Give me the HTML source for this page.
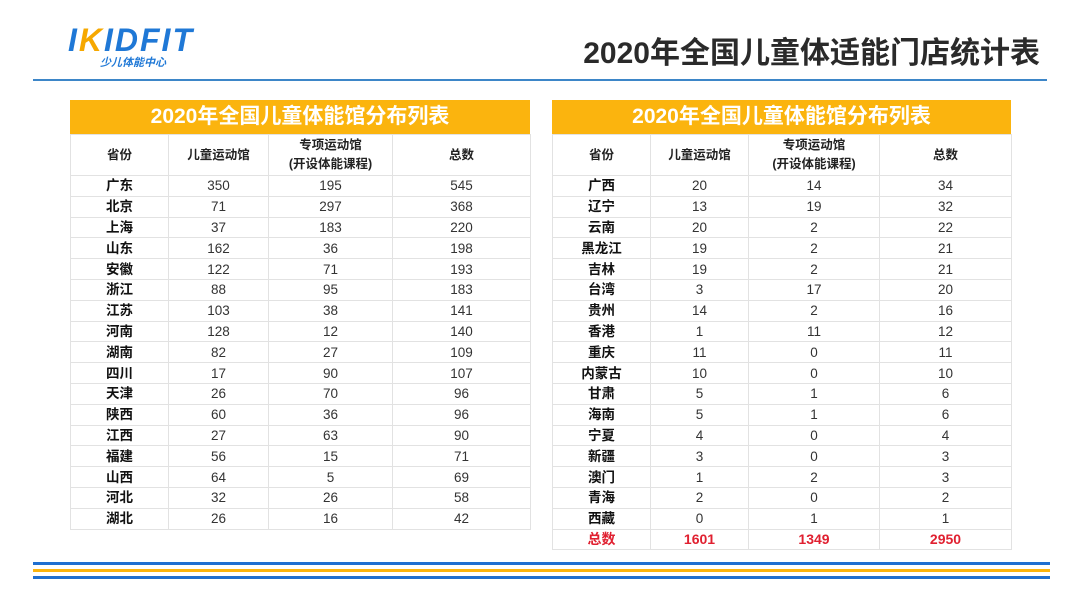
<!DOCTYPE html><html><head><meta charset="utf-8"><style>
body{margin:0;width:1080px;height:607px;background:#fff;position:relative;overflow:hidden;font-family:"Liberation Sans","Noto Sans CJK SC",sans-serif;}
.abs{position:absolute}
table{position:absolute;border-collapse:collapse;table-layout:fixed;font-size:13.5px;color:#333}
td{border:1px solid #e2e2e2;text-align:center;padding:0;height:19.8px;line-height:19px}
td:first-child{font-weight:bold;color:#111}
tr.h td{height:40px;line-height:19px;font-weight:bold;color:#222;font-size:12.5px}
tr.t td{color:#e02030;font-weight:bold;font-size:14px}
.bar{position:absolute;background:#fbb40e;color:#fff;font-weight:bold;font-size:21px;text-align:center;height:34px;line-height:34px}
</style></head><body>
<div class="abs" style="left:68px;top:22px;font:italic 900 32px 'Liberation Sans',sans-serif;color:#1f78d6;letter-spacing:2px">I<span style="color:#f6a800">K</span>IDFIT</div>
<div class="abs" style="left:100px;top:54px;font-size:11px;color:#1f78d6;font-style:italic;font-weight:bold">少儿体能中心</div>
<div class="abs" style="right:40px;top:28px;font-size:30px;font-weight:bold;color:#2a2a2a">2020年全国儿童体适能门店统计表</div>
<div class="abs" style="left:33px;top:79px;width:1014px;height:2px;background:#3d86c8"></div>
<div class="bar" style="left:70px;top:100px;width:460px">2020年全国儿童体能馆分布列表</div>
<div class="bar" style="left:552px;top:100px;width:459px">2020年全国儿童体能馆分布列表</div>
<table style="left:70px;top:134px;width:460px"><colgroup><col style="width:98px"><col style="width:100px"><col style="width:124px"><col style="width:138px"></colgroup>
<tr class="h"><td>省份</td><td>儿童运动馆</td><td>专项运动馆<br>(开设体能课程)</td><td>总数</td></tr>
<tr><td>广东</td><td>350</td><td>195</td><td>545</td></tr>
<tr><td>北京</td><td>71</td><td>297</td><td>368</td></tr>
<tr><td>上海</td><td>37</td><td>183</td><td>220</td></tr>
<tr><td>山东</td><td>162</td><td>36</td><td>198</td></tr>
<tr><td>安徽</td><td>122</td><td>71</td><td>193</td></tr>
<tr><td>浙江</td><td>88</td><td>95</td><td>183</td></tr>
<tr><td>江苏</td><td>103</td><td>38</td><td>141</td></tr>
<tr><td>河南</td><td>128</td><td>12</td><td>140</td></tr>
<tr><td>湖南</td><td>82</td><td>27</td><td>109</td></tr>
<tr><td>四川</td><td>17</td><td>90</td><td>107</td></tr>
<tr><td>天津</td><td>26</td><td>70</td><td>96</td></tr>
<tr><td>陕西</td><td>60</td><td>36</td><td>96</td></tr>
<tr><td>江西</td><td>27</td><td>63</td><td>90</td></tr>
<tr><td>福建</td><td>56</td><td>15</td><td>71</td></tr>
<tr><td>山西</td><td>64</td><td>5</td><td>69</td></tr>
<tr><td>河北</td><td>32</td><td>26</td><td>58</td></tr>
<tr><td>湖北</td><td>26</td><td>16</td><td>42</td></tr>
</table>
<table style="left:552px;top:134px;width:459px"><colgroup><col style="width:98px"><col style="width:98px"><col style="width:131px"><col style="width:132px"></colgroup>
<tr class="h"><td>省份</td><td>儿童运动馆</td><td>专项运动馆<br>(开设体能课程)</td><td>总数</td></tr>
<tr><td>广西</td><td>20</td><td>14</td><td>34</td></tr>
<tr><td>辽宁</td><td>13</td><td>19</td><td>32</td></tr>
<tr><td>云南</td><td>20</td><td>2</td><td>22</td></tr>
<tr><td>黑龙江</td><td>19</td><td>2</td><td>21</td></tr>
<tr><td>吉林</td><td>19</td><td>2</td><td>21</td></tr>
<tr><td>台湾</td><td>3</td><td>17</td><td>20</td></tr>
<tr><td>贵州</td><td>14</td><td>2</td><td>16</td></tr>
<tr><td>香港</td><td>1</td><td>11</td><td>12</td></tr>
<tr><td>重庆</td><td>11</td><td>0</td><td>11</td></tr>
<tr><td>内蒙古</td><td>10</td><td>0</td><td>10</td></tr>
<tr><td>甘肃</td><td>5</td><td>1</td><td>6</td></tr>
<tr><td>海南</td><td>5</td><td>1</td><td>6</td></tr>
<tr><td>宁夏</td><td>4</td><td>0</td><td>4</td></tr>
<tr><td>新疆</td><td>3</td><td>0</td><td>3</td></tr>
<tr><td>澳门</td><td>1</td><td>2</td><td>3</td></tr>
<tr><td>青海</td><td>2</td><td>0</td><td>2</td></tr>
<tr><td>西藏</td><td>0</td><td>1</td><td>1</td></tr>
<tr class="t"><td style="color:#e02030">总数</td><td>1601</td><td>1349</td><td>2950</td></tr>
</table>
<div class="abs" style="left:33px;top:562px;width:1017px;height:3px;background:#1f6fd0"></div>
<div class="abs" style="left:33px;top:569px;width:1017px;height:3px;background:#fbb40e"></div>
<div class="abs" style="left:33px;top:576px;width:1017px;height:3px;background:#1f6fd0"></div>
</body></html>
